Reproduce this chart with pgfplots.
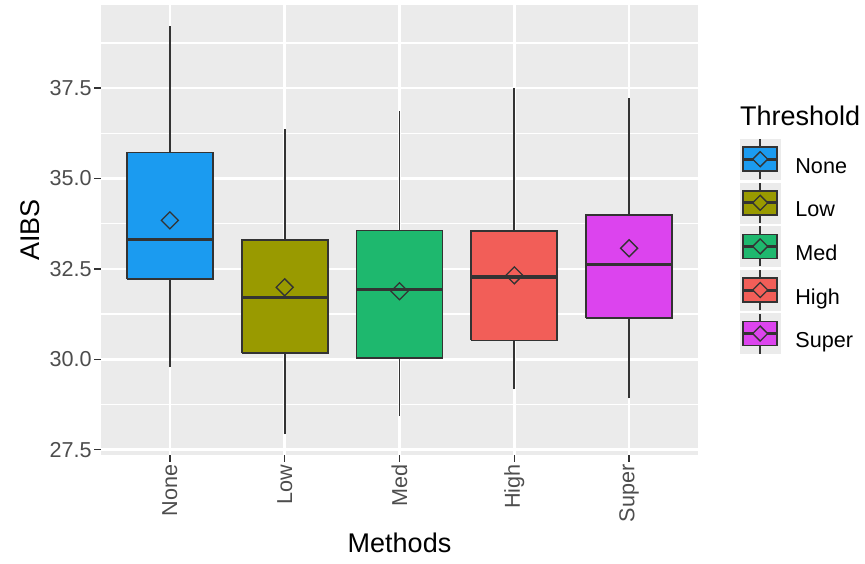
\documentclass[border=0pt]{standalone}
\usepackage{fontspec}
\setmainfont{Liberation Sans}
\usepackage{pgfplots}
\pgfplotsset{compat=1.18}
\definecolor{cNone}{RGB}{27,155,240}
\definecolor{cLow}{RGB}{153,154,0}
\definecolor{cMed}{RGB}{30,184,110}
\definecolor{cHigh}{RGB}{242,94,88}
\definecolor{cSuper}{RGB}{220,68,238}
\definecolor{panel}{RGB}{235,235,235}
\definecolor{g20}{RGB}{51,51,51}
\definecolor{g30}{RGB}{77,77,77}
\newcommand\fs{\fontsize{21.6}{26}\selectfont}
\newcommand\ft{\fontsize{27}{32}\selectfont}
\newcommand\keyimg[1]{%
  \fill[panel] (0pt,-12.5pt) rectangle (40pt,27.5pt);
  \draw[g20, line width=1.6pt] (20pt,-12.5pt) -- (20pt,27.5pt);
  \draw[fill=#1, draw=g20, line width=1.6pt] (3pt,-4.5pt) rectangle (37pt,19.5pt);
  \draw[g20, line width=3pt] (3pt,7.5pt) -- (37pt,7.5pt);
  \draw[g20, line width=1.3pt, fill=#1] (20pt,15pt) -- (27.5pt,7.5pt) -- (20pt,0pt) -- (12.5pt,7.5pt) -- cycle;
}
% box: #1 position, #2 colour, #3 lower whisker, #4 Q1, #5 median, #6 Q3, #7 upper whisker
\newcommand\bx[7]{%
  \addplot[g20, line width=1.8pt, forget plot] coordinates {(#1,#3) (#1,#4)};
  \addplot[g20, line width=1.8pt, forget plot] coordinates {(#1,#6) (#1,#7)};
  \addplot[fill=#2, draw=g20, line width=1.8pt, forget plot] coordinates {(#1-0.375,#4) (#1+0.375,#4) (#1+0.375,#6) (#1-0.375,#6) (#1-0.375,#4)};
  \addplot[g20, line width=3.5pt, forget plot] coordinates {(#1-0.375,#5) (#1+0.375,#5)};
}
\begin{document}
\begin{tikzpicture}
\path[use as bounding box] (0,0) rectangle (865pt,563pt);
\begin{axis}[
  name=ax,
  at={(101pt,108pt)}, anchor=south west,
  scale only axis, width=597pt, height=450pt,
  xmin=0.4, xmax=5.6, ymin=27.35, ymax=39.8,
  xtick={1,2,3,4,5}, xticklabels={None,Low,Med,High,Super},
  ytick={27.5,30,32.5,35,37.5},
  minor ytick={28.75,31.25,33.75,36.25,38.75},
  yticklabel style={/pgf/number format/.cd, fixed, fixed zerofill, precision=1},
  /pgf/number format/assume math mode=true,
  ticklabel style={font=\fs, text=g30, inner sep=2.5pt},
  xticklabel style={rotate=90, anchor=east},
  tick pos=left, tick align=outside,
  major tick length=6.7pt, minor tick length=0pt,
  major tick style={g20, line width=1.3pt},
  grid=both,
  major grid style={white, line width=2.6pt},
  minor grid style={white, line width=1.3pt},
  axis line style={draw=none},
  axis background/.style={fill=panel},
  xlabel=Methods, ylabel=AIBS,
  xlabel style={font=\ft, at={(axis description cs:0.5,-0.196)}, anchor=center},
  ylabel style={font=\ft, at={(axis description cs:-0.119,0.5)}, anchor=center},
  legend style={at={(1.070,0.704)}, anchor=north west, draw=none, fill=none,
    font=\fs, inner sep=0pt, row sep=2pt, column sep=15pt, nodes={inner sep=0pt}},
  legend cell align=left,
]
\bx{1}{cNone}{29.78}{32.21}{33.31}{35.72}{39.23}
\bx{2}{cLow}{27.93}{30.17}{31.71}{33.29}{36.38}
\bx{3}{cMed}{28.43}{30.03}{31.93}{33.56}{36.88}
\bx{4}{cHigh}{29.17}{30.52}{32.27}{33.54}{37.49}
\bx{5}{cSuper}{28.92}{31.13}{32.62}{33.98}{37.24}
\addplot[only marks, mark=square, mark size=6pt, mark options={rotate=45, draw=g20, line width=1.3pt}, forget plot] coordinates {(1,33.84) (2,31.99) (3,31.88) (4,32.32) (5,33.07)};
\addlegendimage{legend image code/.code={\keyimg{cNone}}}
\addlegendentry{None}
\addlegendimage{legend image code/.code={\keyimg{cLow}}}
\addlegendentry{Low}
\addlegendimage{legend image code/.code={\keyimg{cMed}}}
\addlegendentry{Med}
\addlegendimage{legend image code/.code={\keyimg{cHigh}}}
\addlegendentry{High}
\addlegendimage{legend image code/.code={\keyimg{cSuper}}}
\addlegendentry{Super}
\end{axis}
\node[anchor=west, font=\ft, inner sep=0pt] at ([xshift=42pt, yshift=-111pt] ax.north east) {Threshold};
\end{tikzpicture}
\end{document}
